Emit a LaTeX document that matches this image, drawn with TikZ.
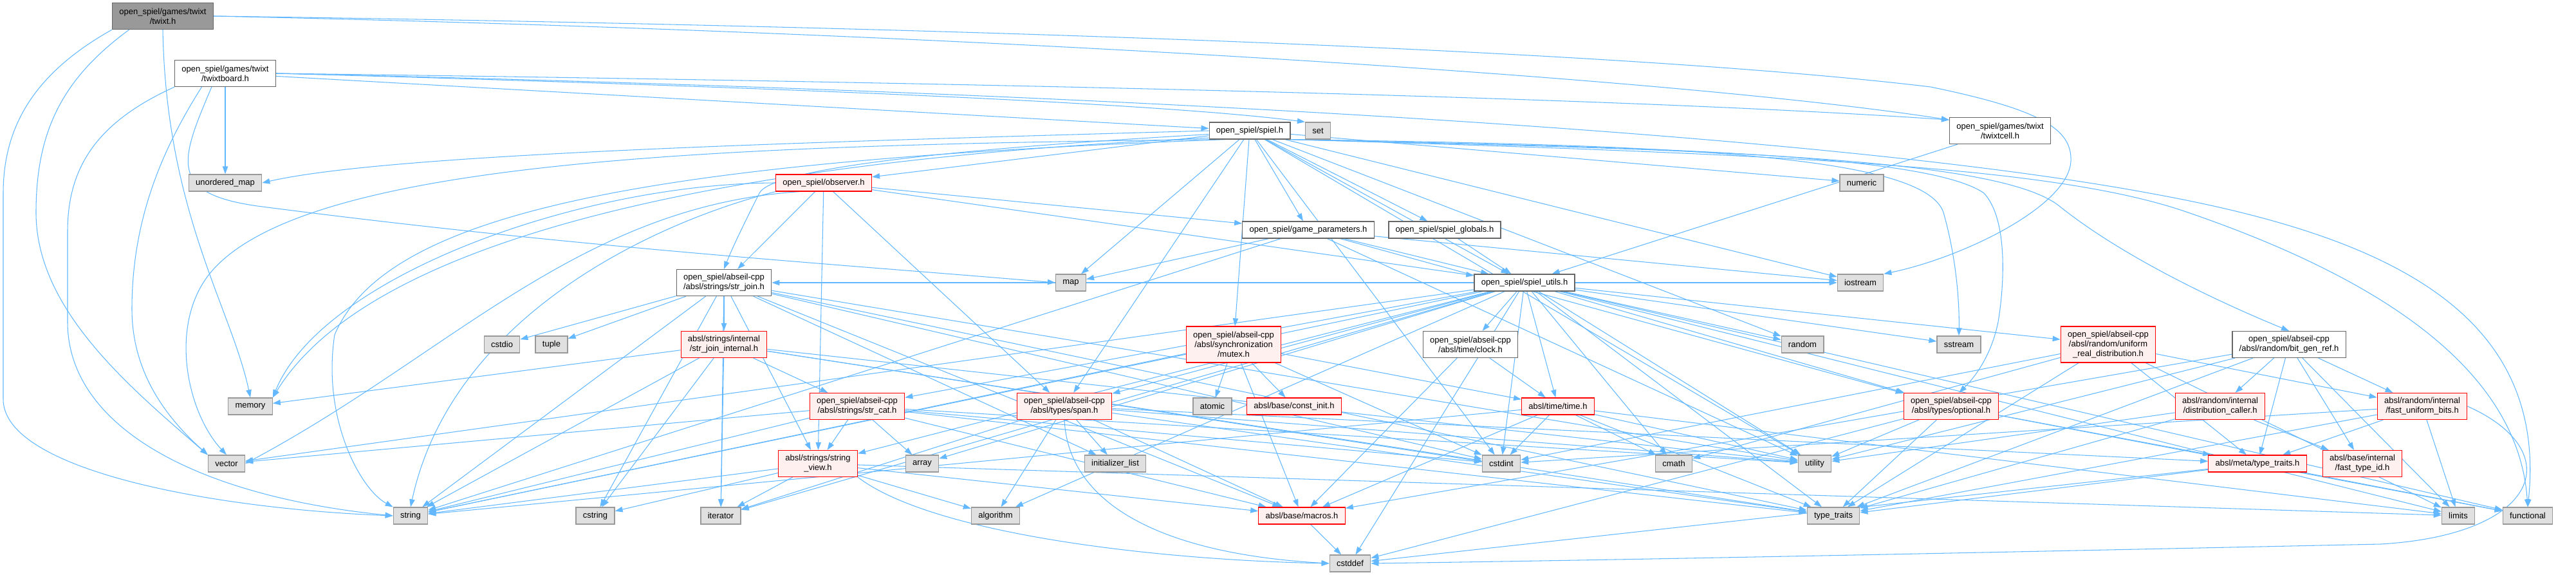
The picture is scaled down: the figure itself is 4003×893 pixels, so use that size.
\documentclass[tikz,border=0pt]{standalone}
\usepackage{fontspec}
\newfontfamily\dotfont{Liberation Sans}
\definecolor{edgeblue}{RGB}{99,184,255}
\definecolor{sysgray}{RGB}{224,224,224}
\definecolor{sysborder}{RGB}{153,153,153}
\definecolor{redfill}{RGB}{255,240,240}
\definecolor{redborder}{RGB}{255,0,0}
\definecolor{fileborder}{RGB}{102,102,102}
\definecolor{rootgray}{RGB}{153,153,153}
\usepackage{tikz}
\usetikzlibrary{arrows.meta,backgrounds}

\begin{document}
\begin{tikzpicture}[x=0.025cm,y=-0.025cm,
  inc/.style={draw,line width=0.9pt,font=\dotfont\fontsize{9.25}{10.7}\selectfont,
              align=center,inner xsep=0.27cm,inner ysep=0pt,minimum height=0.65cm},
  sysnode/.style={inc,draw=sysborder,fill=sysgray},
  filenode/.style={inc,draw=fileborder,fill=white},
  rednode/.style={inc,draw=redborder,fill=redfill},
  rootnode/.style={inc,draw=fileborder,fill=rootgray},
  two/.style={minimum height=1.025cm},
  three/.style={minimum height=1.4cm},
  dep/.style={draw=edgeblue,line width=0.75pt,-{Triangle[length=0.3cm,width=0.21cm]}}]
  \useasboundingbox (0,0) rectangle (4003,893);
  % nós
  \node[rootnode,two] (twixt) at (253,25) {open\_spiel/games/twixt\\/twixt.h};
  \node[filenode,two] (twixtboard) at (350,114) {open\_spiel/games/twixt\\/twixtboard.h};
  \node[sysnode] (unorderedmap) at (350,284) {unordered\_map};
  \node[filenode] (spiel) at (1942,203) {open\_spiel/spiel.h};
  \node[sysnode] (set) at (2048,203) {set};
  \node[filenode,two] (twixtcell) at (3108,203) {open\_spiel/games/twixt\\/twixtcell.h};
  \node[rednode] (observer) at (1280,284) {open\_spiel/observer.h};
  \node[sysnode] (numeric) at (2893,284) {numeric};
  \node[filenode] (gameparams) at (2033,357) {open\_spiel/game\_parameters.h};
  \node[filenode] (globals) at (2245,357) {open\_spiel/spiel\_globals.h};
  \node[filenode,two] (strjoin) at (1125,439) {open\_spiel/abseil-cpp\\/absl/strings/str\_join.h};
  \node[sysnode] (map) at (1664,439) {map};
  \node[filenode] (utils) at (2369,439) {open\_spiel/spiel\_utils.h};
  \node[sysnode] (iostream) at (2891,439) {iostream};
  \node[sysnode] (cstdio) at (780,535) {cstdio};
  \node[sysnode] (tuple) at (857,535) {tuple};
  \node[rednode,two] (strjoinint) at (1125,535) {absl/strings/internal\\/str\_join\_internal.h};
  \node[rednode,three] (mutex) at (1917,535) {open\_spiel/abseil-cpp\\/absl/synchronization\\/mutex.h};
  \node[filenode,two] (clock) at (2285,535) {open\_spiel/abseil-cpp\\/absl/time/clock.h};
  \node[sysnode] (random) at (2801,535) {random};
  \node[sysnode] (sstream) at (3044,535) {sstream};
  \node[rednode,three] (unireal) at (3276,535) {open\_spiel/abseil-cpp\\/absl/random/uniform\\\_real\_distribution.h};
  \node[filenode,two] (bitgen) at (3557,535) {open\_spiel/abseil-cpp\\/absl/random/bit\_gen\_ref.h};
  \node[sysnode] (memory) at (389,631) {memory};
  \node[rednode,two] (strcat) at (1332,631) {open\_spiel/abseil-cpp\\/absl/strings/str\_cat.h};
  \node[rednode,two] (span) at (1654,631) {open\_spiel/abseil-cpp\\/absl/types/span.h};
  \node[sysnode] (atomic) at (1884,631) {atomic};
  \node[rednode] (constinit) at (2011,631) {absl/base/const\_init.h};
  \node[rednode] (timeh) at (2421,631) {absl/time/time.h};
  \node[rednode,two] (optional) at (3032,631) {open\_spiel/abseil-cpp\\/absl/types/optional.h};
  \node[rednode,two] (distcaller) at (3450,631) {absl/random/internal\\/distribution\_caller.h};
  \node[rednode,two] (fastbits) at (3764,631) {absl/random/internal\\/fast\_uniform\_bits.h};
  \node[sysnode] (vector) at (352,720) {vector};
  \node[rednode,two] (strview) at (1271,720) {absl/strings/string\\\_view.h};
  \node[sysnode] (array) at (1433,720) {array};
  \node[sysnode] (initlist) at (1733,720) {initializer\_list};
  \node[sysnode] (cstdint) at (2333,720) {cstdint};
  \node[sysnode] (cmath) at (2601,720) {cmath};
  \node[sysnode] (utility) at (2820,720) {utility};
  \node[rednode] (metatt) at (3508,720) {absl/meta/type\_traits.h};
  \node[rednode,two] (fasttypeid) at (3671,720) {absl/base/internal\\/fast\_type\_id.h};
  \node[sysnode] (string) at (638,801) {string};
  \node[sysnode] (cstring) at (925,801) {cstring};
  \node[sysnode] (iterator) at (1120,801) {iterator};
  \node[sysnode] (algorithm) at (1547,801) {algorithm};
  \node[rednode] (macros) at (2023,801) {absl/base/macros.h};
  \node[sysnode] (typetraits) at (2849,801) {type\_traits};
  \node[sysnode] (limits) at (3820,801) {limits};
  \node[sysnode] (functional) at (3928,801) {functional};
  \node[sysnode] (cstddef) at (2098,875) {cstddef};

  \begin{scope}[on background layer]
  % arestas retas
  \foreach \src/\dst in {twixtboard/spiel, twixtboard/unorderedmap,
      spiel/observer, spiel/numeric, spiel/iostream, spiel/random,
      spiel/mutex, spiel/span, spiel/gameparams,
      spiel/globals, spiel/utils, spiel/map, spiel/cstdint, spiel/utility,
      observer/strjoin, observer/gameparams, observer/utils, observer/span, observer/strview,
      gameparams/map, gameparams/utils, gameparams/optional, gameparams/string,
      gameparams/iostream, gameparams/utility, globals/utils, twixtcell/utils,
      strjoin/cstdio, strjoin/tuple, strjoin/strjoinint, strjoin/cstring, strjoin/iterator,
      strjoin/string, strjoin/initlist, strjoin/typetraits, strjoin/utility, strjoin/macros,
      strjoin/strview, strjoin/cstdint,
      strjoinint/memory, strjoinint/string, strjoinint/iterator, strjoinint/cstring,
      strjoinint/strcat, strjoinint/typetraits, strjoinint/utility, strjoinint/cstdint,
      mutex/atomic, mutex/constinit, mutex/timeh, mutex/cstdint, mutex/string, mutex/macros,
      clock/macros, clock/timeh,
      utils/vector, utils/string, utils/algorithm, utils/array, utils/cstdint, utils/cmath,
      utils/cstddef, utils/utility, utils/typetraits, utils/functional, utils/iostream,
      utils/random, utils/sstream, utils/unireal, utils/strcat, utils/strjoin, utils/strview,
      utils/clock, utils/timeh, utils/optional, utils/span, utils/limits, utils/iterator,
      strcat/strview, strcat/array, strcat/string, strcat/vector, strcat/cstdint,
      strcat/typetraits, strcat/utility, strcat/macros,
      span/algorithm, span/initlist, span/iterator, span/typetraits, span/utility,
      span/macros, span/metatt,
      strview/iterator, strview/algorithm, strview/string, strview/cstring, strview/limits,
      strview/macros,
      timeh/cmath, timeh/cstdint, timeh/limits, timeh/string, timeh/typetraits,
      timeh/utility, timeh/macros,
      optional/utility, optional/typetraits, optional/functional, optional/metatt, optional/cstddef,
      unireal/metatt, unireal/fastbits, unireal/cmath, unireal/cstdint, unireal/limits,
      unireal/typetraits,
      bitgen/distcaller, bitgen/fastbits, bitgen/fasttypeid, bitgen/metatt, bitgen/limits,
      bitgen/typetraits, bitgen/utility, bitgen/macros,
      distcaller/utility, distcaller/typetraits, distcaller/fasttypeid,
      fastbits/metatt, fastbits/limits, fastbits/typetraits, fastbits/cstdint,
      metatt/functional, metatt/typetraits, metatt/cstddef, macros/cstddef}
    \draw[dep] (\src) -- (\dst);
  % arestas curvas
  \draw[dep] (twixt.south west) .. controls (60,110) and (5,190) .. (5,300) -- (5,620)
    .. controls (5,730) and (330,790) .. (string.west);
  \draw[dep] (twixt.202) .. controls (100,120) and (56,200) .. (56,330)
    .. controls (56,480) and (200,600) .. (vector.north west);
  \draw[dep] (twixt.south) .. controls (258,330) and (360,480) .. (memory.north);
  \draw[dep] (twixt.east) .. controls (1400,40) and (2500,75) .. (3000,135)
    .. controls (3170,170) and (3220,200) .. (3218,250)
    .. controls (3215,320) and (3050,400) .. (iostream.north east);
  \draw[dep] (twixt.east) .. controls (1500,50) and (2600,120) .. (twixtcell.168);
  \draw[dep] (twixtboard.east) .. controls (1500,128) and (2500,150) .. (twixtcell.168);
  \draw[dep] (twixtboard.east) .. controls (1600,140) and (2800,200) .. (3340,300)
    .. controls (3700,365) and (3960,480) .. (functional.north);
  \draw[dep] (twixtboard.east) .. controls (1200,135) and (1800,160) .. (set.north west);
  \draw[dep] (twixtboard.south west) .. controls (150,190) and (105,260) .. (105,360) -- (105,500)
    .. controls (105,660) and (300,770) .. (string.west);
  \draw[dep] (twixtboard.210) .. controls (260,220) and (205,330) .. (205,480)
    .. controls (205,580) and (260,650) .. (vector.north west);
  \draw[dep] (twixtboard.225) .. controls (280,250) and (260,300) .. (400,320)
    .. controls (900,385) and (1300,410) .. (map.west);
  \draw[dep] (spiel.west) .. controls (1200,222) and (600,240) .. (unorderedmap.east);
  \draw[dep] (spiel.195) .. controls (1100,225) and (480,250) .. (330,420)
    .. controls (260,500) and (290,640) .. (vector.north);
  \draw[dep] (spiel.200) .. controls (1000,250) and (600,330) .. (520,520)
    .. controls (500,650) and (560,760) .. (string.north west);
  \draw[dep] (spiel.190) .. controls (1300,240) and (600,330) .. (memory.north east);
  \draw[dep] (spiel.185) .. controls (1500,230) and (1200,260) .. (1180,300)
    .. controls (1160,340) and (1140,380) .. (strjoin.north);
  \draw[dep] (spiel.south east) .. controls (2500,228) and (2990,235) .. (3083,300)
    .. controls (3120,340) and (3115,440) .. (3105,500)
    .. controls (3095,550) and (3070,585) .. (optional.60);
  \draw[dep] (spiel.south east) .. controls (2600,225) and (2990,240) .. (3020,330)
    .. controls (3040,400) and (3045,470) .. (sstream.north);
  \draw[dep] (spiel.south east) .. controls (2600,232) and (3100,240) .. (3200,320)
    .. controls (3300,400) and (3450,470) .. (bitgen.north);
  \draw[dep] (spiel.south east) .. controls (2800,240) and (3200,260) .. (3400,330)
    .. controls (3750,450) and (3915,600) .. (functional.north);
  \draw[dep] (observer.west) .. controls (900,285) and (500,430) .. (memory.north east);
  \draw[dep] (observer.200) .. controls (900,320) and (700,550) .. (vector.east);
  \draw[dep] (observer.south west) .. controls (1000,350) and (700,500) .. (string.north);
  \draw[dep] (strview.south east) .. controls (1450,830) and (1800,870) .. (cstddef.west);
  \draw[dep] (span.south) .. controls (1660,780) and (1800,860) .. (cstddef.west);
  \draw[dep] (fastbits.east) .. controls (3990,700) and (3950,830) .. (3700,845)
    .. controls (3000,860) and (2500,870) .. (cstddef.east);
  \end{scope}
\end{tikzpicture}
\end{document}
